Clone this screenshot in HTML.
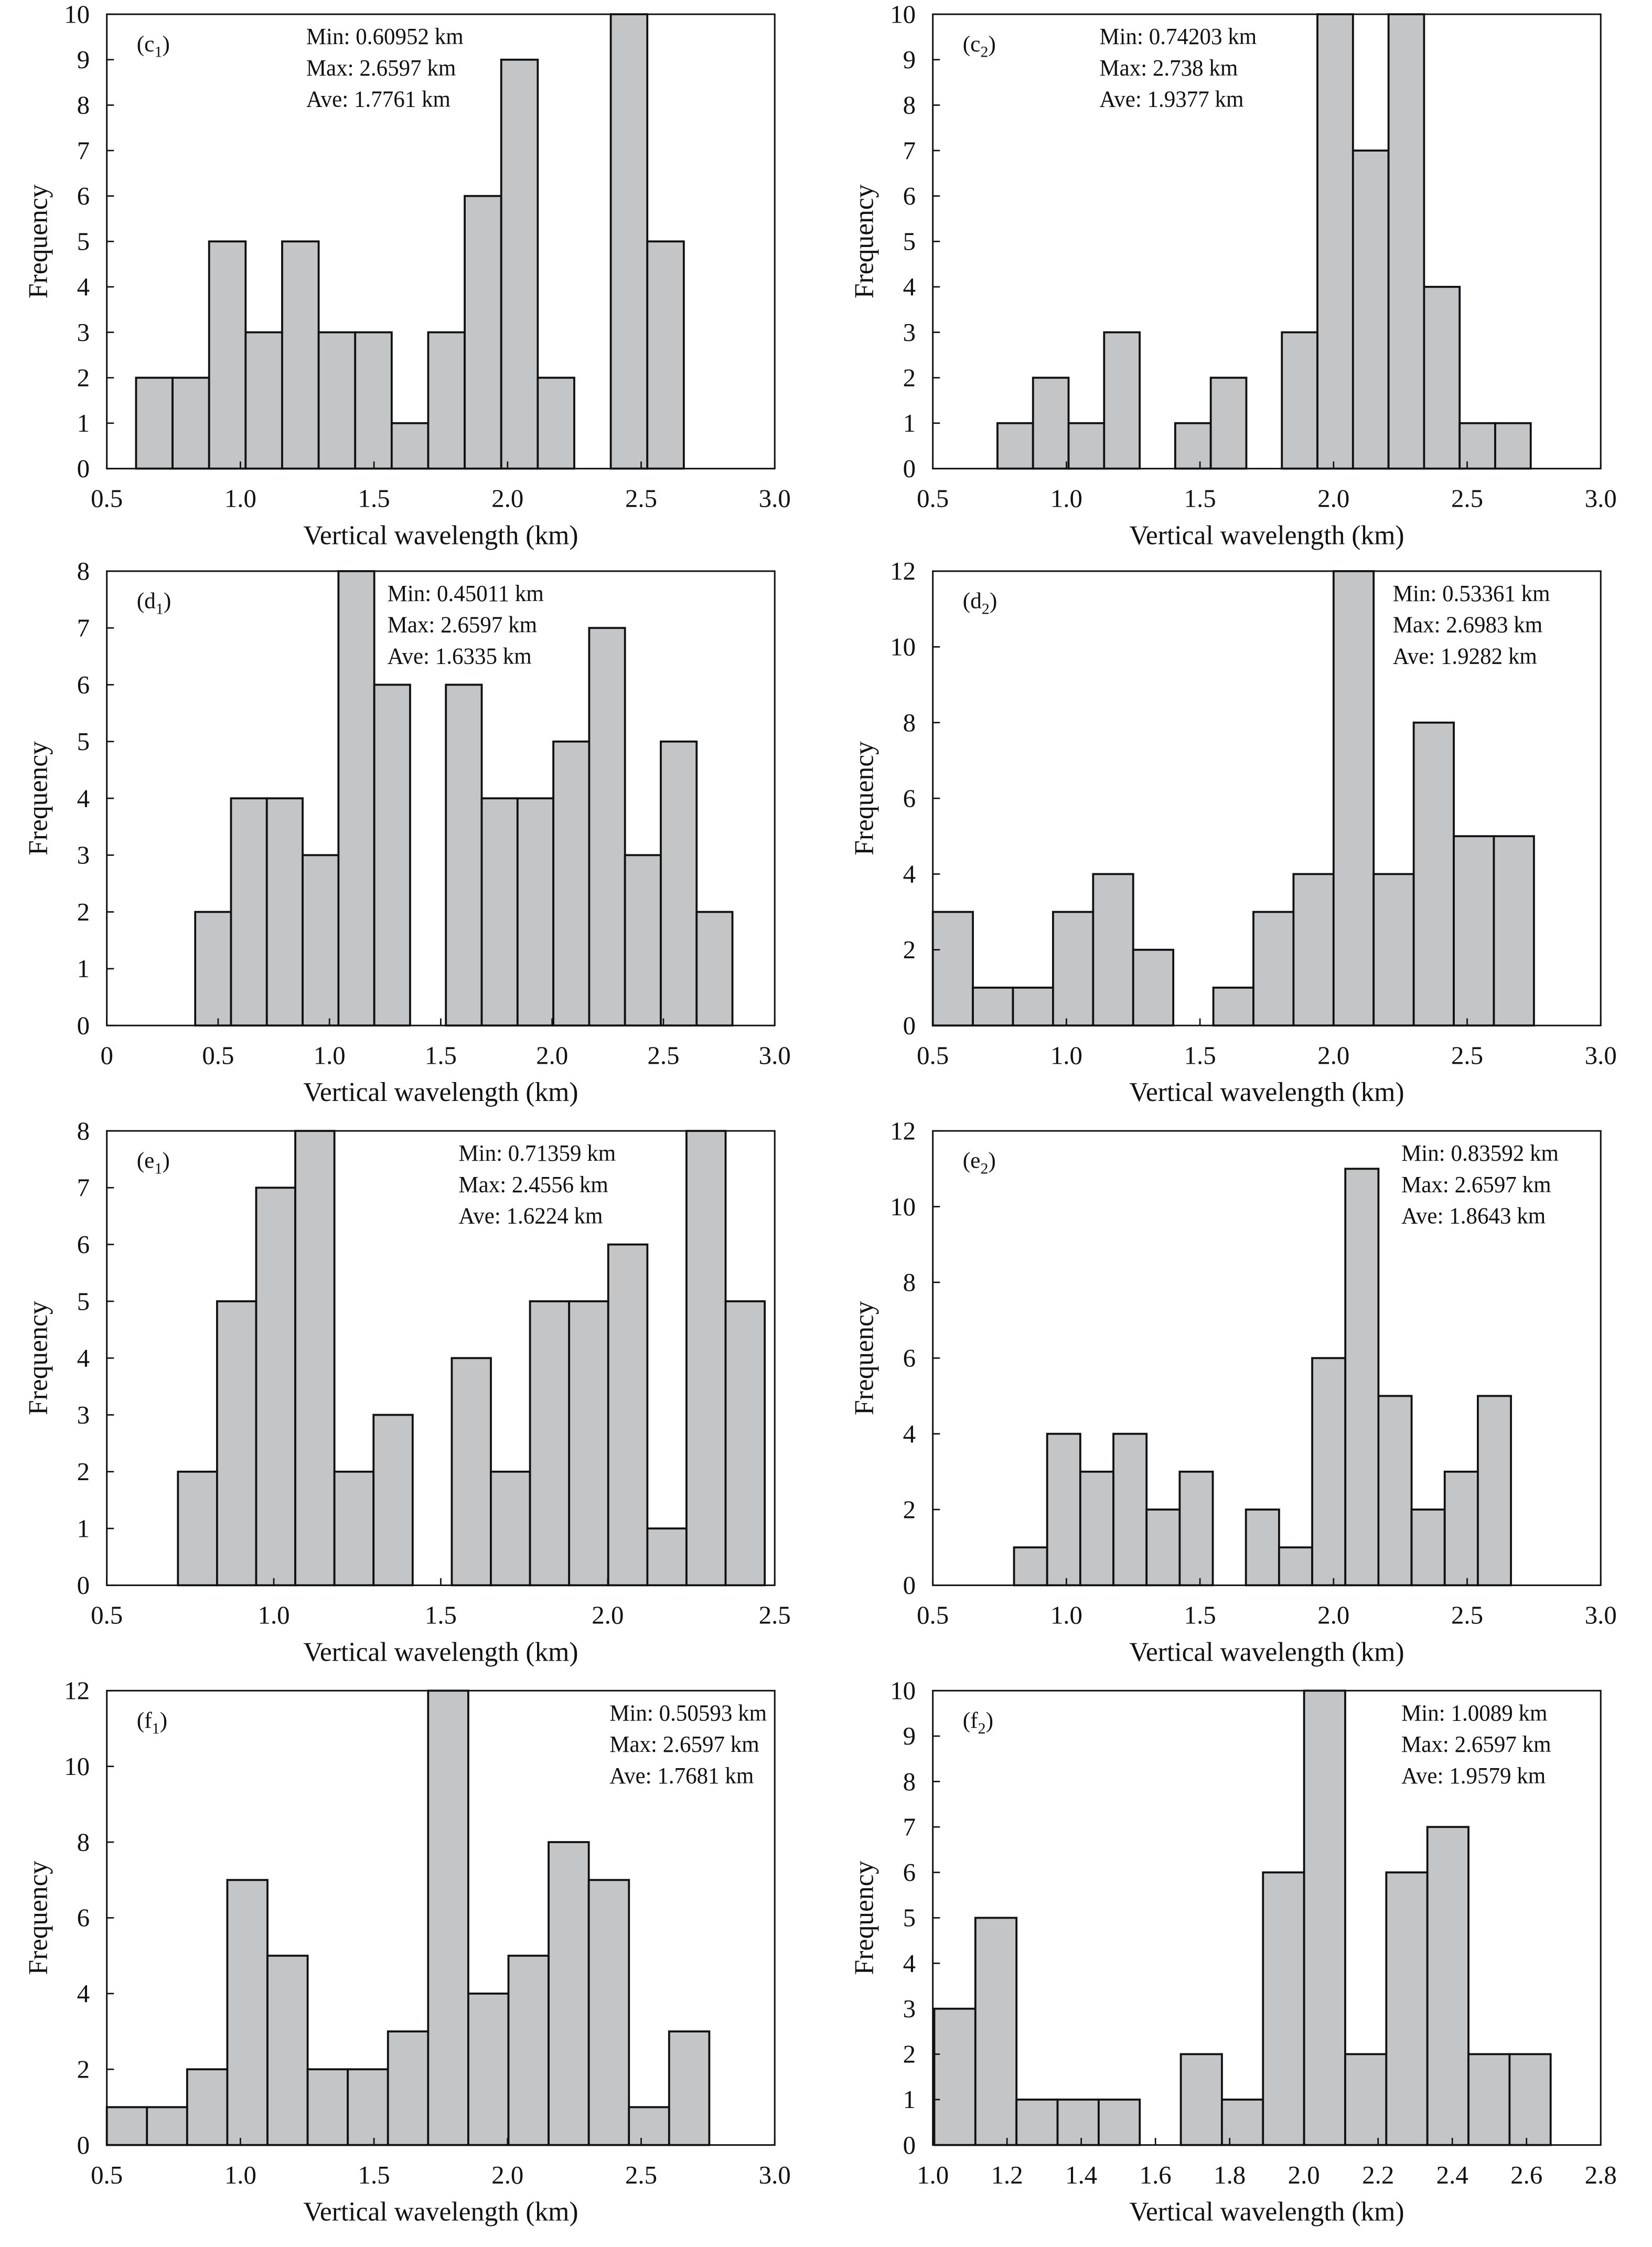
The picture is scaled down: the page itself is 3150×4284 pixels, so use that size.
<!DOCTYPE html>
<html><head><meta charset="utf-8"><style>
html,body{margin:0;padding:0;background:#fff}
svg{display:block}
text{font-family:"Liberation Serif",serif;fill:#111}
</style></head><body>
<svg id="fig" width="3150" height="4284" viewBox="0 0 1160 1577.6" xmlns="http://www.w3.org/2000/svg"></svg>
<script>
// Data: counts per panel, bin ranges (km), axes
const countsC1 = [2,2,5,3,5,3,3,1,3,6,9,2,0,10,5];
const countsC2 = [1,2,1,3,0,1,2,0,3,10,7,10,4,1,1];
const countsD1 = [2,4,4,3,8,6,0,6,4,4,5,7,3,5,2];
const countsD2 = [3,1,1,3,4,2,0,1,3,4,12,4,8,5,5];
const countsE1 = [2,5,7,8,2,3,0,4,2,5,5,6,1,8,5];
const countsE2 = [1,4,3,4,2,3,0,2,1,6,11,5,2,3,5];
const countsF1 = [1,1,2,7,5,2,2,3,12,4,5,8,7,1,3];
const countsF2 = [3,5,1,1,1,0,2,1,6,10,2,6,7,2,2];
const binRanges = [[0.6095,2.6597],[0.742,2.738],[0.397,2.81],[0.5,2.75],[0.713,2.47],[0.804,2.664],[0.5,2.755],[1.004,2.665]];
const xTicks1 = ["0.5","1.0","1.5","2.0","2.5","3.0"];
const xTicks2 = ["0","0.5","1.0","1.5","2.0","2.5","3.0"];
const xTicks3 = ["0.5","1.0","1.5","2.0","2.5"];
const xTicks4 = ["1.0","1.2","1.4","1.6","1.8","2.0","2.2","2.4","2.6","2.8"];
const yTicks10 = ["0","1","2","3","4","5","6","7","8","9","10"];
const yTicks8 = ["0","1","2","3","4","5","6","7","8"];
const yTicks12 = ["0","2","4","6","8","10","12"];
const labels = [["c","1"],["c","2"],["d","1"],["d","2"],["e","1"],["e","2"],["f","1"],["f","2"]];
const statsMin = ["0.60952","0.74203","0.45011","0.53361","0.71359","0.83592","0.50593","1.0089"];
const statsMax = ["2.6597","2.738","2.6597","2.6983","2.4556","2.6597","2.6597","2.6597"];
const statsAve = ["1.7761","1.9377","1.6335","1.9282","1.6224","1.8643","1.7681","1.9579"];

const NS="http://www.w3.org/2000/svg";
const svg=document.getElementById('fig');
function mk(tag,attrs,parent){const e=document.createElementNS(NS,tag);for(const k in attrs)e.setAttribute(k,attrs[k]);parent.appendChild(e);return e;}

const panels=[
 {c:countsC1,xt:xTicks1,yt:yTicks10,col:0,row:0,sx:215},
 {c:countsC2,xt:xTicks1,yt:yTicks10,col:1,row:0,sx:772},
 {c:countsD1,xt:xTicks2,yt:yTicks8,col:0,row:1,sx:272},
 {c:countsD2,xt:xTicks1,yt:yTicks12,col:1,row:1,sx:978},
 {c:countsE1,xt:xTicks3,yt:yTicks8,col:0,row:2,sx:322},
 {c:countsE2,xt:xTicks1,yt:yTicks12,col:1,row:2,sx:984},
 {c:countsF1,xt:xTicks1,yt:yTicks12,col:0,row:3,sx:428},
 {c:countsF2,xt:xTicks4,yt:yTicks10,col:1,row:3,sx:984}
];
const lefts=[75,655], tops=[10,401,794,1187], W=469, H=319;

panels.forEach((p,i)=>{
  const L=lefts[p.col], T=tops[p.row], B=T+H;
  const g=mk('g',{},svg);
  
  
  const x0=parseFloat(p.xt[0]), x1=parseFloat(p.xt[p.xt.length-1]);
  const y1=parseFloat(p.yt[p.yt.length-1]);
  const X=v=>L+(v-x0)/(x1-x0)*W;
  const Y=v=>B-v/y1*H;
  const [bmin,bmax]=binRanges[i];
  const bw=(bmax-bmin)/p.c.length;
  p.c.forEach((v,k)=>{
    const xa=X(bmin+k*bw), xb=X(bmin+(k+1)*bw);
    const r=mk('rect',{x:xa,y:Y(v),width:xb-xa,height:B-Y(v),fill:'#c4c5c7',stroke:v>0?'#111':'none','stroke-width':1.4},g);
    
    
  });
  const fr=mk('rect',{x:L,y:T,width:W,height:H,fill:'none',stroke:'#111','stroke-width':1.1},g);
  
  
  p.xt.forEach(t=>{
    const x=X(parseFloat(t));
    mk('line',{x1:x,y1:B,x2:x,y2:B-5,stroke:'#111','stroke-width':1},g);
    const tx=mk('text',{x:x,y:B+27,'text-anchor':'middle','font-size':18},g);
    tx.textContent=t;
    
    
  });
  p.yt.forEach(t=>{
    const y=Y(parseFloat(t));
    mk('line',{x1:L,y1:y,x2:L+5,y2:y,stroke:'#111','stroke-width':1},g);
    const ty=mk('text',{x:L-12,y:y+6,'text-anchor':'end','font-size':18},g);
    ty.textContent=t;
    
    
  });
  const xl=mk('text',{x:L+W/2,y:B+53,'text-anchor':'middle','font-size':19},g);
  xl.textContent='Vertical wavelength (km)';
  
  
  const cy=T+H/2;
  const yl=mk('text',{x:L-42,y:cy,'text-anchor':'middle','font-size':19,transform:`rotate(-90 ${L-42} ${cy})`},g);
  yl.textContent='Frequency';
  
  
  const pl=mk('text',{x:L+21,y:T+26,'font-size':16},g);
  pl.innerHTML='('+labels[i][0]+'<tspan font-size="11" dy="4">'+labels[i][1]+'</tspan><tspan dy="-4">)</tspan>';
  
  
  const lines=['Min: '+statsMin[i]+' km','Max: '+statsMax[i]+' km','Ave: '+statsAve[i]+' km'];
  lines.forEach((s,k)=>{
    const st=mk('text',{x:p.sx,y:T+21+k*22,'font-size':16.5,transform:`translate(${p.sx*0.04} 0) scale(0.96 1)`},g);
    st.textContent=s;
    
    
  });
});
</script>
</body></html>
